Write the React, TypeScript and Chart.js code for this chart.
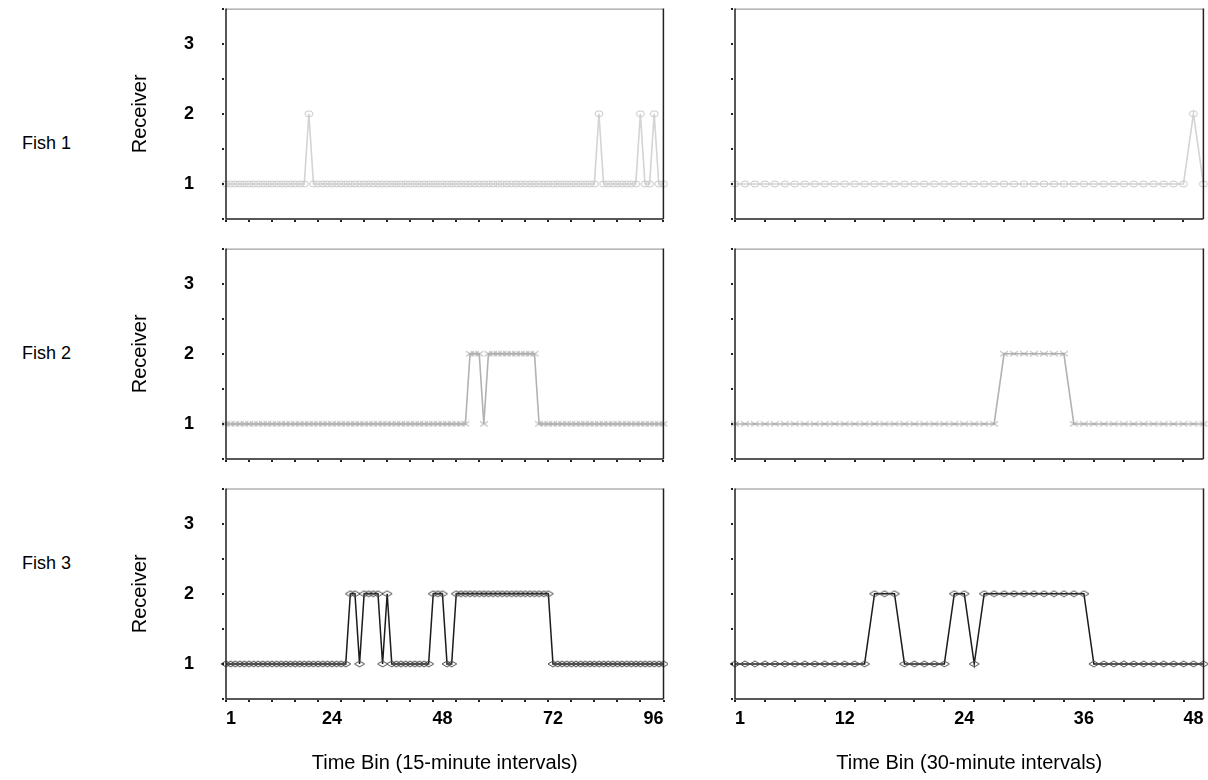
import React, { useEffect, useRef } from "react";
import { Chart, registerables } from "chart.js";
Chart.register(...registerables);

// ---------- data ----------
const FISH_LABELS = ["Fish 1", "Fish 2", "Fish 3"];
const Y_TITLE = "Receiver";
const Y_TICK_LABELS = [1, 2, 3];
const X_LABELS_15 = [1, 24, 48, 72, 96];
const X_LABELS_30 = [1, 12, 24, 36, 48];
const X_TITLE_15 = "Time Bin (15-minute intervals)";
const X_TITLE_30 = "Time Bin (30-minute intervals)";
const X_MINOR_STEP_15 = 5;
const X_MINOR_STEP_30 = 3;

// 15-minute bins 1..96
const FISH1_15 = [
  1, 1, 1, 1, 1, 1, 1, 1, 1, 1, 1, 1,
  1, 1, 1, 1, 1, 1, 2, 1, 1, 1, 1, 1,
  1, 1, 1, 1, 1, 1, 1, 1, 1, 1, 1, 1,
  1, 1, 1, 1, 1, 1, 1, 1, 1, 1, 1, 1,
  1, 1, 1, 1, 1, 1, 1, 1, 1, 1, 1, 1,
  1, 1, 1, 1, 1, 1, 1, 1, 1, 1, 1, 1,
  1, 1, 1, 1, 1, 1, 1, 1, 1, 2, 1, 1,
  1, 1, 1, 1, 1, 1, 2, 1, 1, 2, 1, 1,
];
const FISH2_15 = [
  1, 1, 1, 1, 1, 1, 1, 1, 1, 1, 1, 1,
  1, 1, 1, 1, 1, 1, 1, 1, 1, 1, 1, 1,
  1, 1, 1, 1, 1, 1, 1, 1, 1, 1, 1, 1,
  1, 1, 1, 1, 1, 1, 1, 1, 1, 1, 1, 1,
  1, 1, 1, 1, 1, 2, 2, 2, 1, 2, 2, 2,
  2, 2, 2, 2, 2, 2, 2, 2, 1, 1, 1, 1,
  1, 1, 1, 1, 1, 1, 1, 1, 1, 1, 1, 1,
  1, 1, 1, 1, 1, 1, 1, 1, 1, 1, 1, 1,
];
const FISH3_15 = [
  1, 1, 1, 1, 1, 1, 1, 1, 1, 1, 1, 1,
  1, 1, 1, 1, 1, 1, 1, 1, 1, 1, 1, 1,
  1, 1, 1, 2, 2, 1, 2, 2, 2, 2, 1, 2,
  1, 1, 1, 1, 1, 1, 1, 1, 1, 2, 2, 2,
  1, 1, 2, 2, 2, 2, 2, 2, 2, 2, 2, 2,
  2, 2, 2, 2, 2, 2, 2, 2, 2, 2, 2, 1,
  1, 1, 1, 1, 1, 1, 1, 1, 1, 1, 1, 1,
  1, 1, 1, 1, 1, 1, 1, 1, 1, 1, 1, 1,
];
// 30-minute bins 1..48
const FISH1_30 = [
  1, 1, 1, 1, 1, 1, 1, 1, 1, 1, 1, 1,
  1, 1, 1, 1, 1, 1, 1, 1, 1, 1, 1, 1,
  1, 1, 1, 1, 1, 1, 1, 1, 1, 1, 1, 1,
  1, 1, 1, 1, 1, 1, 1, 1, 1, 1, 2, 1,
];
const FISH2_30 = [
  1, 1, 1, 1, 1, 1, 1, 1, 1, 1, 1, 1,
  1, 1, 1, 1, 1, 1, 1, 1, 1, 1, 1, 1,
  1, 1, 1, 2, 2, 2, 2, 2, 2, 2, 1, 1,
  1, 1, 1, 1, 1, 1, 1, 1, 1, 1, 1, 1,
];
const FISH3_30 = [
  1, 1, 1, 1, 1, 1, 1, 1, 1, 1, 1, 1,
  1, 1, 2, 2, 2, 1, 1, 1, 1, 1, 2, 2,
  1, 2, 2, 2, 2, 2, 2, 2, 2, 2, 2, 2,
  1, 1, 1, 1, 1, 1, 1, 1, 1, 1, 1, 1,
];

// ---------- styling ----------
const FONT = "Arial, 'Liberation Sans', sans-serif";
const ROW_TOPS = [7, 247, 487];
const PLOT_H = 212;
const LEFT_PLOT = { left: 226, right: 665 };
const RIGHT_PLOT = { left: 735, right: 1205 };
const FISH_LABEL_Y = [143, 353, 563];

const SERIES_STYLE = [
  { line: "#d4d4d4", marker: "#c8c8c8", kind: "ellipse", mw: 8, mh: 6, width: 1.6 },
  { line: "#b2b2b2", marker: "#a8a8a8", kind: "cross", mw: 8, mh: 5, width: 1.6 },
  { line: "#1c1c1c", marker: "#4a4a4a", kind: "diamond", mw: 10, mh: 6, width: 1.5 },
];

function makeMarker(kind: string, w: number, h: number, color: string) {
  const pad = 1;
  const c = document.createElement("canvas");
  c.width = w + pad * 2;
  c.height = h + pad * 2;
  const ctx = c.getContext("2d")!;
  ctx.strokeStyle = color;
  ctx.lineWidth = 1;
  const cx = c.width / 2;
  const cy = c.height / 2;
  ctx.beginPath();
  if (kind === "ellipse") {
    ctx.ellipse(cx, cy, w / 2, h / 2, 0, 0, Math.PI * 2);
  } else if (kind === "diamond") {
    ctx.moveTo(cx - w / 2, cy);
    ctx.lineTo(cx, cy - h / 2);
    ctx.lineTo(cx + w / 2, cy);
    ctx.lineTo(cx, cy + h / 2);
    ctx.closePath();
  } else {
    ctx.moveTo(cx - w / 2, cy - h / 2);
    ctx.lineTo(cx + w / 2, cy + h / 2);
    ctx.moveTo(cx + w / 2, cy - h / 2);
    ctx.lineTo(cx - w / 2, cy + h / 2);
  }
  ctx.stroke();
  return c;
}

const framePlugin = {
  id: "frame",
  afterDraw(chart: any, _args: any, opts: any) {
    const { ctx, chartArea } = chart;
    const { left, right, top, bottom } = chartArea;
    const x = chart.scales.x;
    const y = chart.scales.y;
    ctx.save();
    ctx.strokeStyle = "#8a8a8a";
    ctx.lineWidth = 1;
    ctx.beginPath();
    ctx.moveTo(left, top + 0.5);
    ctx.lineTo(right, top + 0.5);
    ctx.stroke();
    ctx.strokeStyle = "#222";
    ctx.lineWidth = 1.5;
    ctx.beginPath();
    ctx.moveTo(left, top);
    ctx.lineTo(left, bottom);
    ctx.lineTo(right, bottom);
    ctx.moveTo(right, top);
    ctx.lineTo(right, bottom);
    ctx.stroke();
    ctx.fillStyle = "#222";
    for (let v = x.min; v <= x.max + 1e-9; v += opts.step) {
      const px = x.getPixelForValue(v);
      ctx.fillRect(Math.round(px) - 1, bottom + 1, 2, 2);
    }
    y.ticks.forEach((t: any) => {
      const py = y.getPixelForValue(t.value);
      ctx.fillRect(left - 4, Math.round(py) - 1, 2, 2);
    });
    ctx.restore();
  },
};

type PanelProps = {
  values: number[];
  xMax: number;
  xLabels: number[];
  minorStep: number;
  plot: { left: number; right: number };
  rowTop: number;
  showY: boolean;
  showX: boolean;
  xTitle: string;
  styleIdx: number;
};

function Panel(p: PanelProps) {
  const ref = useRef<HTMLCanvasElement>(null);
  const canvasLeft = p.showY ? 120 : p.plot.left - 12;
  const canvasTop = p.rowTop - 3;
  const canvasW = p.plot.right + 3 - canvasLeft;
  const bottomSpace = p.showX ? 780 - (p.rowTop + PLOT_H) : 8;
  const canvasH = 3 + PLOT_H + bottomSpace;

  useEffect(() => {
    const st = SERIES_STYLE[p.styleIdx];
    const marker = makeMarker(st.kind, st.mw, st.mh, st.marker);
    const chart = new Chart(ref.current!, {
      type: "line",
      data: {
        datasets: [
          {
            data: p.values.map((v, i) => ({ x: i + 1, y: v })),
            borderColor: st.line,
            borderWidth: st.width,
            pointStyle: marker as any,
            pointRadius: 3,
            pointHoverRadius: 3,
            tension: 0,
            fill: false,
            clip: false as any,
          },
        ],
      },
      options: {
        responsive: false,
        animation: false,
        events: [],
        layout: { padding: { top: 3, right: 3, left: 0, bottom: 0 } },
        plugins: {
          legend: { display: false },
          tooltip: { enabled: false },
          frame: { step: p.minorStep },
        } as any,
        scales: {
          x: {
            type: "linear",
            min: 1,
            max: p.xMax,
            grid: { display: false, drawTicks: false },
            border: { display: false },
            afterBuildTicks: (s: any) => {
              s.ticks = p.xLabels.map((v) => ({ value: v }));
            },
            afterFit: (s: any) => {
              s.height = bottomSpace;
              s.paddingLeft = 0;
              s.paddingRight = 0;
            },
            ticks: {
              display: p.showX,
              align: "inner",
              maxRotation: 0,
              autoSkip: false,
              padding: 9,
              color: "#000",
              font: { family: FONT, size: 18, weight: "bold" },
              callback: (v: any) => String(v),
            },
            title: {
              display: p.showX,
              text: p.xTitle,
              color: "#000",
              font: { family: FONT, size: 20 },
              padding: { top: 0, bottom: 5 },
            },
          } as any,
          y: {
            type: "linear",
            min: 0.5,
            max: 3.5,
            grid: { display: false, drawTicks: false },
            border: { display: false },
            afterFit: (s: any) => {
              s.width = p.plot.left - canvasLeft;
              s.paddingTop = 0;
              s.paddingBottom = 0;
            },
            ticks: {
              stepSize: 0.5,
              display: p.showY,
              padding: 32,
              color: "#000",
              font: { family: FONT, size: 18, weight: "bold" },
              callback: (v: any) => (Y_TICK_LABELS.includes(Number(v)) ? String(v) : ""),
            },
            title: {
              display: p.showY,
              text: Y_TITLE,
              color: "#000",
              font: { family: FONT, size: 20 },
              padding: { top: 8, bottom: 0 },
            },
          } as any,
        },
      },
      plugins: [framePlugin],
    });
    return () => chart.destroy();
  }, []);

  return (
    <canvas
      ref={ref}
      width={canvasW}
      height={canvasH}
      style={{ position: "absolute", left: canvasLeft, top: canvasTop, width: canvasW, height: canvasH }}
    />
  );
}

const LEFT_SERIES = [FISH1_15, FISH2_15, FISH3_15];
const RIGHT_SERIES = [FISH1_30, FISH2_30, FISH3_30];

export default function App() {
  return (
    <div
      style={{
        position: "absolute",
        left: 0,
        top: 0,
        width: 1208,
        height: 780,
        background: "#fff",
        fontFamily: FONT,
        overflow: "hidden",
      }}
    >
      {FISH_LABELS.map((t, i) => (
        <div
          key={t}
          style={{
            position: "absolute",
            left: 22,
            top: FISH_LABEL_Y[i],
            transform: "translateY(-50%)",
            fontSize: 18,
            lineHeight: 1,
            color: "#000",
            whiteSpace: "nowrap",
          }}
        >
          {t}
        </div>
      ))}
      {ROW_TOPS.map((top, i) => (
        <React.Fragment key={i}>
          <Panel
            values={LEFT_SERIES[i]}
            xMax={96}
            xLabels={X_LABELS_15}
            minorStep={X_MINOR_STEP_15}
            plot={LEFT_PLOT}
            rowTop={top}
            showY={true}
            showX={i === 2}
            xTitle={X_TITLE_15}
            styleIdx={i}
          />
          <Panel
            values={RIGHT_SERIES[i]}
            xMax={48}
            xLabels={X_LABELS_30}
            minorStep={X_MINOR_STEP_30}
            plot={RIGHT_PLOT}
            rowTop={top}
            showY={false}
            showX={i === 2}
            xTitle={X_TITLE_30}
            styleIdx={i}
          />
        </React.Fragment>
      ))}
    </div>
  );
}
